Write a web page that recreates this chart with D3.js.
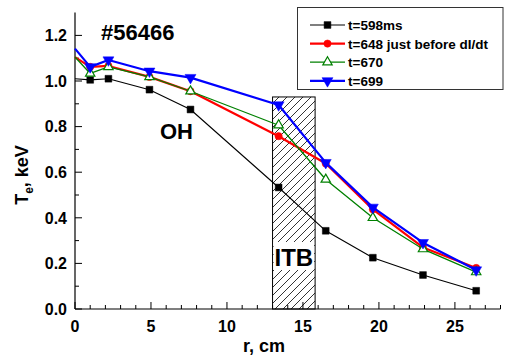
<!DOCTYPE html>
<html>
<head>
<meta charset="utf-8">
<script src="https://cdn.jsdelivr.net/npm/d3@7/dist/d3.min.js"></script>
<style>
  html, body { margin: 0; padding: 0; background: #fff; }
  svg { display: block; }
  text { font-family: "Liberation Sans", Arial, sans-serif; font-weight: bold; fill: #000; }
</style>
</head>
<body>
<svg id="chart" width="505" height="361"></svg>
<script>
// Minor radius positions (cm)
const radii = [0, 1.0, 2.2, 4.9, 7.6, 13.4, 16.5, 19.6, 22.9, 26.4];

// Electron temperature profiles, keV
const te598 = [1.01, 1.005, 1.01, 0.962, 0.875, 0.533, 0.343, 0.225, 0.149, 0.080];
const te648 = [1.105, 1.062, 1.066, 1.018, 0.955, 0.758, 0.638, 0.437, 0.270, 0.180];
const te670 = [1.105, 1.033, 1.062, 1.018, 0.955, 0.806, 0.568, 0.400, 0.263, 0.162];
const te699 = [1.142, 1.062, 1.092, 1.043, 1.015, 0.895, 0.642, 0.446, 0.291, 0.171];

const seriesNames = ["t=598ms", "t=648 just before dI/dt", "t=670", "t=699"];

// Transport barrier zone
const itbRange = [13.0, 15.8];
const itbTop = 0.93;

const xTicks = [0, 5, 10, 15, 20, 25];
const yTicks = [0.0, 0.2, 0.4, 0.6, 0.8, 1.0, 1.2];

const svg = d3.select("#chart");

const x = d3.scaleLinear().domain([0, 28]).range([75, 500.5]);
const y = d3.scaleLinear().domain([0, 1.3]).range([309, 12.6]);

// hatching for the ITB region
const defs = svg.append("defs");
defs.append("pattern")
  .attr("id", "hatch")
  .attr("patternUnits", "userSpaceOnUse")
  .attr("width", 8).attr("height", 8)
  .append("path")
  .attr("d", "M-2,2 L2,-2 M0,8 L8,0 M6,10 L10,6")
  .attr("stroke", "#000").attr("stroke-width", 0.8);

const itbG = svg.append("g");
itbG.append("rect")
  .attr("x", x(itbRange[0])).attr("y", y(itbTop))
  .attr("width", x(itbRange[1]) - x(itbRange[0]))
  .attr("height", y(0) - y(itbTop))
  .attr("fill", "url(#hatch)")
  .attr("stroke", "#000").attr("stroke-width", 1);

// axes
const xAxisG = svg.append("g");
xAxisG.append("line")
  .attr("x1", x(0)).attr("x2", x(28)).attr("y1", y(0)).attr("y2", y(0))
  .attr("stroke", "#000").attr("stroke-width", 1.2);
d3.range(0, 29, 1).forEach(v => {
  const major = v % 5 === 0;
  xAxisG.append("line")
    .attr("x1", x(v)).attr("x2", x(v))
    .attr("y1", y(0)).attr("y2", y(0) - (major ? 7 : 4))
    .attr("stroke", "#000").attr("stroke-width", 1);
});
xAxisG.selectAll("text.tick").data(xTicks).join("text")
  .attr("class", "tick")
  .attr("x", d => x(d)).attr("y", 332)
  .attr("text-anchor", "middle")
  .attr("font-size", 16)
  .text(d => d);

const yAxisG = svg.append("g");
yAxisG.append("line")
  .attr("x1", x(0)).attr("x2", x(0)).attr("y1", y(0)).attr("y2", y(1.3))
  .attr("stroke", "#000").attr("stroke-width", 1.2);
d3.range(0, 13, 1).forEach(i => {
  const v = i / 10;
  const major = i % 2 === 0;
  yAxisG.append("line")
    .attr("x1", x(0)).attr("x2", x(0) + (major ? 7 : 4))
    .attr("y1", y(v)).attr("y2", y(v))
    .attr("stroke", "#000").attr("stroke-width", 1);
});
yAxisG.selectAll("text.tick").data(yTicks).join("text")
  .attr("class", "tick")
  .attr("x", 67).attr("y", d => y(d) + 5.8)
  .attr("text-anchor", "end")
  .attr("font-size", 16)
  .text(d => d.toFixed(1));

// axis titles
svg.append("text")
  .attr("x", 264).attr("y", 352)
  .attr("text-anchor", "middle")
  .attr("font-size", 18)
  .text("r, cm");

const yTitle = svg.append("text")
  .attr("transform", "translate(28,175) rotate(-90)")
  .attr("text-anchor", "middle")
  .attr("font-size", 18);
yTitle.append("tspan").text("T");
yTitle.append("tspan").attr("font-size", 12).attr("dy", 5).text("e");
yTitle.append("tspan").attr("dy", -5).text(", keV");

// profiles
const series = [
  { name: seriesNames[0], values: te598, color: "#000000", width: 1.1, symbol: d3.symbolSquare, size: 46, fill: true },
  { name: seriesNames[1], values: te648, color: "#ff0000", width: 2.2, symbol: d3.symbolCircle, size: 42, fill: true },
  { name: seriesNames[2], values: te670, color: "#008000", width: 1.3, symbol: d3.symbolTriangle, size: 38, fill: false },
  { name: seriesNames[3], values: te699, color: "#0000ff", width: 2.2, symbol: "down", size: 52, fill: true }
];

function markerPath(s) {
  if (s.symbol === "down") {
    return d3.symbol().type(d3.symbolTriangle).size(s.size)();
  }
  return d3.symbol().type(s.symbol).size(s.size)();
}

const line = d3.line().x(d => x(d[0])).y(d => y(d[1]));

series.forEach(s => {
  const pts = radii.map((r, i) => [r, s.values[i]]);
  svg.append("path")
    .attr("d", line(pts))
    .attr("fill", "none")
    .attr("stroke", s.color)
    .attr("stroke-width", s.width)
    .attr("stroke-linejoin", "round");
  svg.append("g").selectAll("path").data(pts.slice(1)).join("path")
    .attr("d", markerPath(s))
    .attr("transform", d => `translate(${x(d[0])},${y(d[1])})` + (s.symbol === "down" ? " rotate(180)" : ""))
    .attr("fill", s.fill ? s.color : "#fff")
    .attr("stroke", s.color)
    .attr("stroke-width", s.fill ? 0.5 : 1.2);
});

// ITB label over its region
const itbMid = (x(itbRange[0]) + x(itbRange[1])) / 2;
svg.append("rect")
  .attr("x", x(itbRange[0]) + 1).attr("y", 242)
  .attr("width", x(itbRange[1]) - x(itbRange[0]) - 2)
  .attr("height", 28)
  .attr("fill", "#fff");
svg.append("text")
  .attr("x", itbMid).attr("y", 266)
  .attr("text-anchor", "middle")
  .attr("font-size", 24)
  .text("ITB");

// annotations
svg.append("text").attr("x", 101).attr("y", 40).attr("font-size", 22).text("#56466");
svg.append("text").attr("x", 160).attr("y", 139).attr("font-size", 22).text("OH");

// legend
const lg = svg.append("g");
lg.append("rect")
  .attr("x", 297.5).attr("y", 7.5).attr("width", 205.5).attr("height", 82)
  .attr("fill", "#fff").attr("stroke", "#333").attr("stroke-width", 1);
series.forEach((s, i) => {
  const cy = 25 + i * 18.6;
  lg.append("line")
    .attr("x1", 310).attr("x2", 345).attr("y1", cy).attr("y2", cy)
    .attr("stroke", s.color).attr("stroke-width", s.width);
  lg.append("path")
    .attr("d", markerPath(s))
    .attr("transform", `translate(327.5,${cy})` + (s.symbol === "down" ? " rotate(180)" : ""))
    .attr("fill", s.fill ? s.color : "#fff")
    .attr("stroke", s.color)
    .attr("stroke-width", s.fill ? 0.5 : 1.2);
  lg.append("text")
    .attr("x", 348).attr("y", cy + 5)
    .attr("font-size", 13.5)
    .text(s.name);
});
</script>
</body>
</html>
